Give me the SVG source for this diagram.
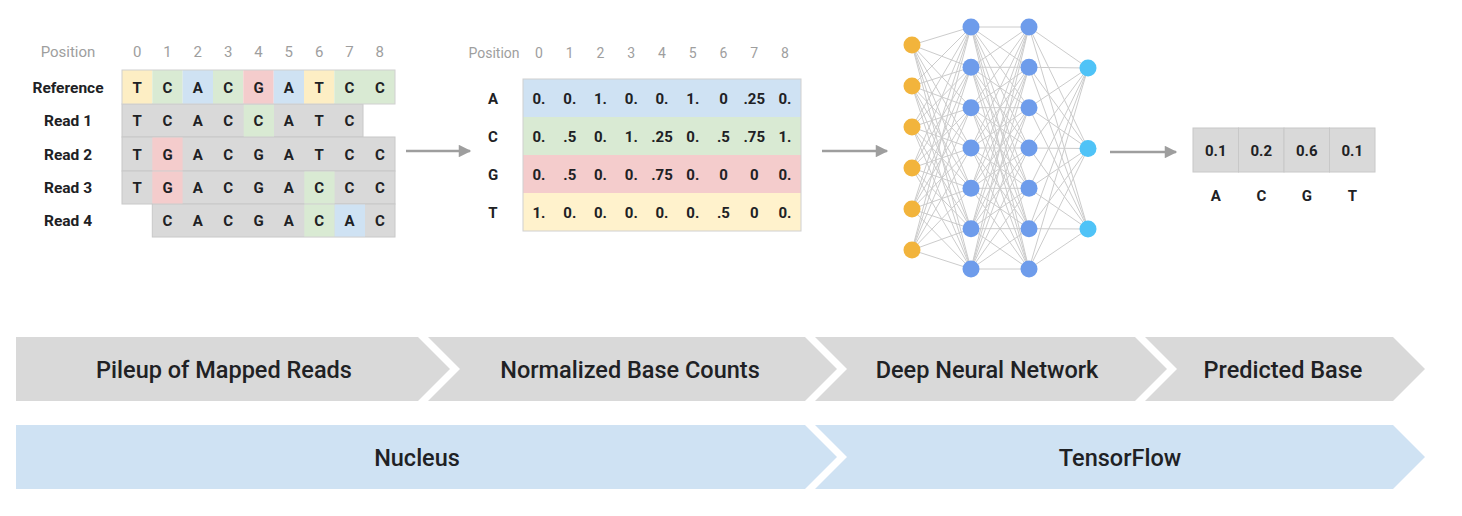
<svg xmlns="http://www.w3.org/2000/svg" width="1462" height="516" viewBox="0 0 1462 516">
<style>
.pos{font-family:Roboto,"Liberation Sans",sans-serif;font-size:15px;fill:#9e9e9e;text-anchor:middle}
.pos2{font-family:Roboto,"Liberation Sans",sans-serif;font-size:14px;fill:#9e9e9e;text-anchor:middle}
.lbl{font-family:Roboto,"Liberation Sans",sans-serif;font-size:15.5px;font-weight:700;fill:#202124;text-anchor:middle}
.b{font-family:Roboto,"Liberation Sans",sans-serif;font-size:15px;font-weight:700;fill:#202124;text-anchor:middle}
.ban{font-family:Roboto,"Liberation Sans",sans-serif;font-size:23.5px;font-weight:500;fill:#202124;text-anchor:middle}
.gr{fill:#d9d9d9;stroke:#c8c8c8;stroke-width:1}
.y{fill:#fdeec4}.g{fill:#d9ead3}.bl{fill:#cfe2f3}.r{fill:#f4cccc}
.arr{stroke:#9e9e9e;stroke-width:2.5;fill:none}
.e{stroke:#cccccc;stroke-width:1}
.in{fill:#f2b43c}.hid{fill:#6e9ceb}.out{fill:#4fc3f7}
.chev{fill:#d9d9d9}.chb{fill:#cfe2f3}
</style>
<defs>
<marker id="ah" viewBox="0 0 10 10" refX="9" refY="5" markerWidth="6" markerHeight="5" markerUnits="strokeWidth" orient="auto">
<path d="M0,0 L10,5 L0,10 z" fill="#9e9e9e"/>
</marker>
</defs>
<rect width="1462" height="516" fill="#ffffff"/>

<g id="pileup">
<text class="pos" x="68" y="57">Position</text>
<g class="pos">
<text x="137.2" y="57">0</text><text x="167.5" y="57">1</text><text x="197.8" y="57">2</text><text x="228.2" y="57">3</text><text x="258.5" y="57">4</text><text x="288.8" y="57">5</text><text x="319.2" y="57">6</text><text x="349.5" y="57">7</text><text x="379.8" y="57">8</text>
</g>
<text class="lbl" x="68" y="92.5">Reference</text>
<text class="lbl" x="68" y="126">Read 1</text>
<text class="lbl" x="68" y="159.5">Read 2</text>
<text class="lbl" x="68" y="193">Read 3</text>
<text class="lbl" x="68" y="226">Read 4</text>
<rect class="gr" x="122" y="104" width="241" height="33"/>
<rect class="gr" x="122" y="137" width="273" height="34"/>
<rect class="gr" x="122" y="171" width="273" height="33"/>
<rect class="gr" x="152.3" y="204" width="242.7" height="33"/>
<rect class="g" x="243.7" y="104.5" width="30.3" height="32"/>
<rect class="r" x="152.3" y="137.5" width="30.3" height="33"/>
<rect class="r" x="152.3" y="171.5" width="30.3" height="32"/>
<rect class="g" x="304.3" y="171.5" width="30.3" height="32"/>
<rect class="g" x="304.3" y="204.5" width="30.3" height="32"/>
<rect class="bl" x="334.7" y="204.5" width="30.3" height="32"/>
<rect class="y" x="122" y="70" width="30.3" height="34"/>
<rect class="g" x="152.3" y="70" width="30.4" height="34"/>
<rect class="bl" x="182.7" y="70" width="30.3" height="34"/>
<rect class="g" x="213" y="70" width="30.3" height="34"/>
<rect class="r" x="243.3" y="70" width="30.4" height="34"/>
<rect class="bl" x="273.7" y="70" width="30.3" height="34"/>
<rect class="y" x="304" y="70" width="30.3" height="34"/>
<rect class="g" x="334.3" y="70" width="60.7" height="34"/>
<rect x="122" y="70" width="273" height="34" fill="none" stroke="#d0d0d0" stroke-width="1"/>
<g class="b">
<text x="137.2" y="92.5">T</text><text x="167.5" y="92.5">C</text><text x="197.8" y="92.5">A</text><text x="228.2" y="92.5">C</text><text x="258.5" y="92.5">G</text><text x="288.8" y="92.5">A</text><text x="319.2" y="92.5">T</text><text x="349.5" y="92.5">C</text><text x="379.8" y="92.5">C</text>
<text x="137.2" y="126">T</text><text x="167.5" y="126">C</text><text x="197.8" y="126">A</text><text x="228.2" y="126">C</text><text x="258.5" y="126">C</text><text x="288.8" y="126">A</text><text x="319.2" y="126">T</text><text x="349.5" y="126">C</text>
<text x="137.2" y="159.5">T</text><text x="167.5" y="159.5">G</text><text x="197.8" y="159.5">A</text><text x="228.2" y="159.5">C</text><text x="258.5" y="159.5">G</text><text x="288.8" y="159.5">A</text><text x="319.2" y="159.5">T</text><text x="349.5" y="159.5">C</text><text x="379.8" y="159.5">C</text>
<text x="137.2" y="193">T</text><text x="167.5" y="193">G</text><text x="197.8" y="193">A</text><text x="228.2" y="193">C</text><text x="258.5" y="193">G</text><text x="288.8" y="193">A</text><text x="319.2" y="193">C</text><text x="349.5" y="193">C</text><text x="379.8" y="193">C</text>
<text x="167.5" y="226">C</text><text x="197.8" y="226">A</text><text x="228.2" y="226">C</text><text x="258.5" y="226">G</text><text x="288.8" y="226">A</text><text x="319.2" y="226">C</text><text x="349.5" y="226">A</text><text x="379.8" y="226">C</text>
</g>
</g>

<g id="counts">
<text class="pos2" x="494" y="58">Position</text>
<g class="pos2">
<text x="539" y="58">0</text><text x="569.8" y="58">1</text><text x="600.5" y="58">2</text><text x="631.3" y="58">3</text><text x="662" y="58">4</text><text x="692.8" y="58">5</text><text x="723.5" y="58">6</text><text x="754.3" y="58">7</text><text x="785" y="58">8</text>
</g>
<rect class="bl" x="523" y="79" width="278" height="38"/>
<rect class="g" x="523" y="117" width="278" height="38"/>
<rect class="r" x="523" y="155" width="278" height="38"/>
<rect fill="#fff2cc" x="523" y="193" width="278" height="38"/>
<rect x="523" y="79" width="278" height="152" fill="none" stroke="#d0d0d0" stroke-width="1"/>
<g class="b">
<text x="493" y="103.5">A</text><text x="493" y="141.5">C</text><text x="493" y="179.5">G</text><text x="493" y="217.5">T</text>
<text x="539" y="103.5">0.</text><text x="569.8" y="103.5">0.</text><text x="600.5" y="103.5">1.</text><text x="631.3" y="103.5">0.</text><text x="662" y="103.5">0.</text><text x="692.8" y="103.5">1.</text><text x="723.5" y="103.5">0</text><text x="754.3" y="103.5">.25</text><text x="785" y="103.5">0.</text>
<text x="539" y="141.5">0.</text><text x="569.8" y="141.5">.5</text><text x="600.5" y="141.5">0.</text><text x="631.3" y="141.5">1.</text><text x="662" y="141.5">.25</text><text x="692.8" y="141.5">0.</text><text x="723.5" y="141.5">.5</text><text x="754.3" y="141.5">.75</text><text x="785" y="141.5">1.</text>
<text x="539" y="179.5">0.</text><text x="569.8" y="179.5">.5</text><text x="600.5" y="179.5">0.</text><text x="631.3" y="179.5">0.</text><text x="662" y="179.5">.75</text><text x="692.8" y="179.5">0.</text><text x="723.5" y="179.5">0</text><text x="754.3" y="179.5">0</text><text x="785" y="179.5">0.</text>
<text x="539" y="217.5">1.</text><text x="569.8" y="217.5">0.</text><text x="600.5" y="217.5">0.</text><text x="631.3" y="217.5">0.</text><text x="662" y="217.5">0.</text><text x="692.8" y="217.5">0.</text><text x="723.5" y="217.5">.5</text><text x="754.3" y="217.5">0</text><text x="785" y="217.5">0.</text>
</g>
</g>

<g id="connectors">
<line class="arr" x1="406" y1="151" x2="470" y2="151" marker-end="url(#ah)"/>
<line class="arr" x1="822" y1="151" x2="887" y2="151" marker-end="url(#ah)"/>
<line class="arr" x1="1110" y1="152" x2="1176" y2="152" marker-end="url(#ah)"/>
<g class="e">
<path d="M912,45L971,27M912,45L971,67.3M912,45L971,107.7M912,45L971,148M912,45L971,188.3M912,45L971,228.7M912,45L971,269
M912,86L971,27M912,86L971,67.3M912,86L971,107.7M912,86L971,148M912,86L971,188.3M912,86L971,228.7M912,86L971,269
M912,127L971,27M912,127L971,67.3M912,127L971,107.7M912,127L971,148M912,127L971,188.3M912,127L971,228.7M912,127L971,269
M912,168L971,27M912,168L971,67.3M912,168L971,107.7M912,168L971,148M912,168L971,188.3M912,168L971,228.7M912,168L971,269
M912,209L971,27M912,209L971,67.3M912,209L971,107.7M912,209L971,148M912,209L971,188.3M912,209L971,228.7M912,209L971,269
M912,250L971,27M912,250L971,67.3M912,250L971,107.7M912,250L971,148M912,250L971,188.3M912,250L971,228.7M912,250L971,269" fill="none"/>
<path d="M971,27L1029,27M971,27L1029,67.3M971,27L1029,107.7M971,27L1029,148M971,27L1029,188.3M971,27L1029,228.7M971,27L1029,269
M971,67.3L1029,27M971,67.3L1029,67.3M971,67.3L1029,107.7M971,67.3L1029,148M971,67.3L1029,188.3M971,67.3L1029,228.7M971,67.3L1029,269
M971,107.7L1029,27M971,107.7L1029,67.3M971,107.7L1029,107.7M971,107.7L1029,148M971,107.7L1029,188.3M971,107.7L1029,228.7M971,107.7L1029,269
M971,148L1029,27M971,148L1029,67.3M971,148L1029,107.7M971,148L1029,148M971,148L1029,188.3M971,148L1029,228.7M971,148L1029,269
M971,188.3L1029,27M971,188.3L1029,67.3M971,188.3L1029,107.7M971,188.3L1029,148M971,188.3L1029,188.3M971,188.3L1029,228.7M971,188.3L1029,269
M971,228.7L1029,27M971,228.7L1029,67.3M971,228.7L1029,107.7M971,228.7L1029,148M971,228.7L1029,188.3M971,228.7L1029,228.7M971,228.7L1029,269
M971,269L1029,27M971,269L1029,67.3M971,269L1029,107.7M971,269L1029,148M971,269L1029,188.3M971,269L1029,228.7M971,269L1029,269" fill="none"/>
<path d="M1029,27L1088,68M1029,27L1088,148.5M1029,27L1088,229
M1029,67.3L1088,68M1029,67.3L1088,148.5M1029,67.3L1088,229
M1029,107.7L1088,68M1029,107.7L1088,148.5M1029,107.7L1088,229
M1029,148L1088,68M1029,148L1088,148.5M1029,148L1088,229
M1029,188.3L1088,68M1029,188.3L1088,148.5M1029,188.3L1088,229
M1029,228.7L1088,68M1029,228.7L1088,148.5M1029,228.7L1088,229
M1029,269L1088,68M1029,269L1088,148.5M1029,269L1088,229" fill="none"/>
</g>
</g>

<g id="network">
<g class="in">
<circle cx="912" cy="45" r="8.5"/><circle cx="912" cy="86" r="8.5"/><circle cx="912" cy="127" r="8.5"/><circle cx="912" cy="168" r="8.5"/><circle cx="912" cy="209" r="8.5"/><circle cx="912" cy="250" r="8.5"/>
</g>
<g class="hid">
<circle cx="971" cy="27" r="8.5"/><circle cx="971" cy="67.3" r="8.5"/><circle cx="971" cy="107.7" r="8.5"/><circle cx="971" cy="148" r="8.5"/><circle cx="971" cy="188.3" r="8.5"/><circle cx="971" cy="228.7" r="8.5"/><circle cx="971" cy="269" r="8.5"/>
<circle cx="1029" cy="27" r="8.5"/><circle cx="1029" cy="67.3" r="8.5"/><circle cx="1029" cy="107.7" r="8.5"/><circle cx="1029" cy="148" r="8.5"/><circle cx="1029" cy="188.3" r="8.5"/><circle cx="1029" cy="228.7" r="8.5"/><circle cx="1029" cy="269" r="8.5"/>
</g>
<g class="out">
<circle cx="1088" cy="68" r="8.5"/><circle cx="1088" cy="148.5" r="8.5"/><circle cx="1088" cy="229" r="8.5"/>
</g>
</g>

<g id="prediction">
<rect class="gr" x="1193" y="128" width="45.5" height="44"/>
<rect class="gr" x="1238.5" y="128" width="45.5" height="44"/>
<rect class="gr" x="1284" y="128" width="45.5" height="44"/>
<rect class="gr" x="1329.5" y="128" width="45.5" height="44"/>
<g class="b">
<text x="1215.8" y="155.5">0.1</text><text x="1261.3" y="155.5">0.2</text><text x="1306.8" y="155.5">0.6</text><text x="1352.3" y="155.5">0.1</text>
<text x="1215.8" y="200.5">A</text><text x="1261.3" y="200.5">C</text><text x="1306.8" y="200.5">G</text><text x="1352.3" y="200.5">T</text>
</g>
</g>

<g id="stage-pileup">
<polygon class="chev" points="16,337 418,337 450,369 418,401 16,401"/>
<text class="ban" x="224" y="378">Pileup of Mapped Reads</text>
</g>
<g id="stage-counts">
<polygon class="chev" points="428,337 805,337 837,369 805,401 428,401 460,369"/>
<text class="ban" x="630" y="378">Normalized Base Counts</text>
</g>
<g id="stage-dnn">
<polygon class="chev" points="815,337 1135,337 1167,369 1135,401 815,401 847,369"/>
<text class="ban" x="987" y="378">Deep Neural Network</text>
</g>
<g id="stage-predicted">
<polygon class="chev" points="1145,337 1393,337 1425,369 1393,401 1145,401 1177,369"/>
<text class="ban" x="1283" y="378">Predicted Base</text>
</g>
<g id="tool-nucleus">
<polygon class="chb" points="16,425 805,425 837,457 805,489 16,489"/>
<text class="ban" x="417" y="466">Nucleus</text>
</g>
<g id="tool-tensorflow">
<polygon class="chb" points="815,425 1393,425 1425,457 1393,489 815,489 847,457"/>
<text class="ban" x="1120" y="466">TensorFlow</text>
</g>
</svg>
